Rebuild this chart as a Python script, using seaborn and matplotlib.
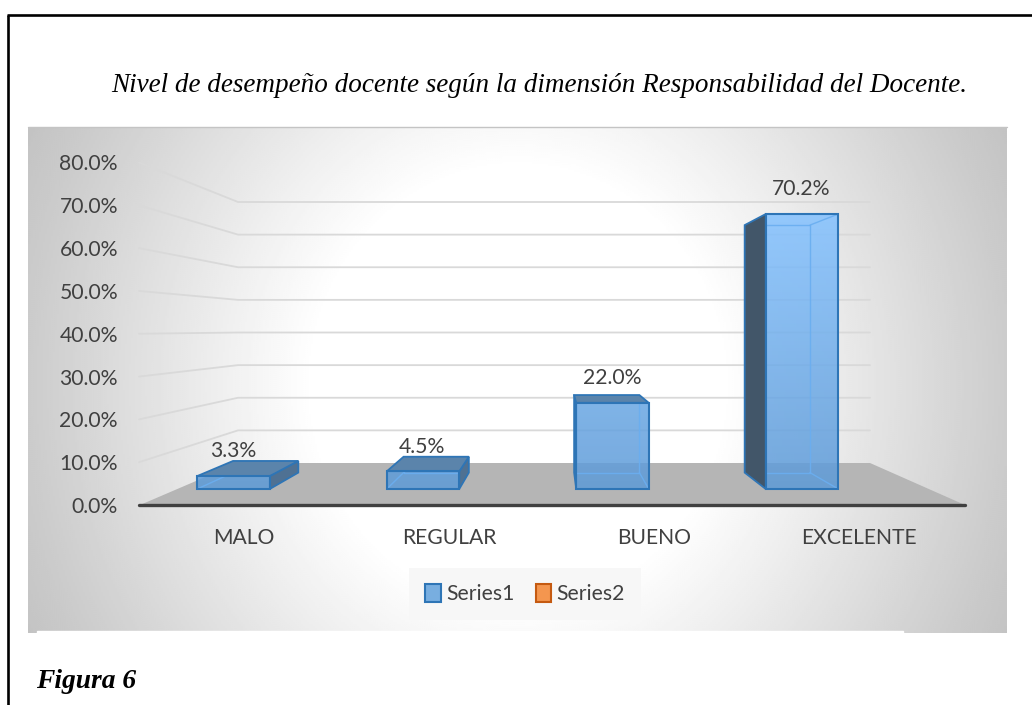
#bar chart (fake 3D, excel style) of nivel de desempeno docente
import numpy as np
import pandas as pd
import matplotlib.pyplot as plt
import seaborn as sns
from matplotlib.patches import Patch, Polygon, Rectangle
from matplotlib.colors import to_rgb

categorias = ['MALO', 'REGULAR', 'BUENO', 'EXCELENTE']
valores = [3.3, 4.5, 22.0, 70.2]
etiquetas = ['3.3%', '4.5%', '22.0%', '70.2%']
ticks_y = [0, 10, 20, 30, 40, 50, 60, 70, 80]
ticks_y_txt = ['0.0%', '10.0%', '20.0%', '30.0%', '40.0%', '50.0%', '60.0%', '70.0%', '80.0%']
series = ['Series1', 'Series2']
titulo = 'Nivel de desempeño docente según la dimensión Responsabilidad del Docente.'
pie = 'Figura 6'

sns.set_theme(style='white')
plt.rcParams['font.family'] = ['Lato', 'DejaVu Sans']
W, H = 1032, 705
gris = '#404040'
azul = '#2e75b6'
fs = 15.2

fig = plt.figure(figsize=(W/100, H/100), dpi=100, facecolor='white')

#background axes in pixels, y going down
bg = fig.add_axes([0, 0, 1, 1])
bg.set_xlim(0, W)
bg.set_ylim(H, 0)
bg.axis('off')

#page frame
bg.plot([6.5, W], [15, 15], color='black', lw=1.9, solid_capstyle='butt')
bg.plot([7.5, 7.5], [15, 705], color='black', lw=1.9, solid_capstyle='butt')

#chart area with radial gradient
xx, yy = np.meshgrid(np.linspace(28, 1007, 490), np.linspace(127, 633, 253))
d = np.sqrt(((xx - 518)/490)**2 + ((yy - 385)/520)**2)
gr = np.interp(d, [0, 0.42, 0.6, 1.0, 1.2], [1, 1, 0.94, 0.80, 0.74])
bg.imshow(gr, extent=[28, 1007, 633, 127], cmap='gray', vmin=0, vmax=1, aspect='auto', zorder=0)
bg.set_xlim(0, W)
bg.set_ylim(H, 0)
bg.plot([28, 1007], [127, 127], color='#c4c4c4', lw=1, zorder=1)
bg.add_patch(Rectangle((37, 631), 866, 3, color='white', zorder=1))

#axes for the tick labels, front plane
pos = [138/W, 1 - 505/H, (966 - 138)/W, (505 - 162.5)/H]
ax_lbl = fig.add_axes(pos, facecolor='none')
ax_lbl.set_xlim((138 - 244)/205, (966 - 244)/205)
ax_lbl.set_ylim(0, 80)
ax_lbl.set_xticks(range(len(categorias)), categorias)
ax_lbl.set_yticks(ticks_y, ticks_y_txt)
ax_lbl.tick_params(axis='both', length=0, labelsize=fs, labelcolor=gris)
ax_lbl.tick_params(axis='x', pad=16.5)
ax_lbl.tick_params(axis='y', pad=14.4)
sns.despine(ax=ax_lbl, left=True, bottom=True)

#walls: gridlines go from the front plane to the back wall
for v in ticks_y[1:]:
	yf = H - ax_lbl.transData.transform((0, v))[1]
	yb = 463 - (505 - yf)*261/342.5
	bg.plot([139, 238, 870], [yf, yb, yb], color='#d9d9d9', lw=1.3, zorder=2)

#floor and base line
bg.add_patch(Polygon([(140, 505), (238, 463), (870, 463), (965, 505)], color='#b5b5b5', lw=0, zorder=3))
bg.plot([139, 965], [504.5, 504.5], color=gris, lw=2.4, solid_capstyle='round', zorder=4)

#bars
ax = fig.add_axes(pos, facecolor='none')
df = pd.DataFrame({'nivel': categorias, 'valor': valores})
sns.barplot(data=df, x='nivel', y='valor', ax=ax, width=72.5/189.5, color=azul, edgecolor=azul, linewidth=1.5, zorder=6)
ax.axis('off')
lim_x = ((138 - 233.5)/189.5, (966 - 233.5)/189.5)
lim_y = (-16/3.917, (489 - 162.5)/3.917)

def a_pixel(x, y):
	p = ax.transData.transform((x, y))
	return p[0], H - p[1]

def fondo(p):#rear corner, 10% of the way to the vanishing point
	return p[0] + (555 - p[0])*0.1, p[1] + (325 - p[1])*0.1

ax.set_xlim(*lim_x)
ax.set_ylim(*lim_y)
c1 = np.array(to_rgb('#5d9ad7'))
c2 = np.array(to_rgb('#83c1ff'))
t = np.linspace(1, 0, 128)[:, None, None]
grad = np.dstack([c1 + (c2 - c1)*t[:, :, 0:1]*1.0, np.full((128, 1, 1), 0.85)])

for i, p in enumerate(ax.patches):
	x0, w, h = p.get_x(), p.get_width(), p.get_height()
	fi = a_pixel(x0, h)
	fd = a_pixel(x0 + w, h)
	bi = a_pixel(x0, 0)
	bd = a_pixel(x0 + w, 0)
	rfi, rfd, rbi, rbd = fondo(fi), fondo(fd), fondo(bi), fondo(bd)
	kw = dict(transform=bg.transData, closed=True, edgecolor=azul, lw=1.3, zorder=3)
	if rfi[0] < fi[0]:
		ax.add_patch(Polygon([fi, rfi, rbi, bi], facecolor='#425669', **kw))
	if rfd[0] > fd[0]:
		ax.add_patch(Polygon([fd, rfd, rbd, bd], facecolor='#4f7193', **kw))
	if rfi[1] > 325 and rfi[1] < fi[1]:
		ax.add_patch(Polygon([fi, rfi, rfd, fd], facecolor='#5b84ab', **kw))
	#gradient inside the front face
	im = ax.imshow(grad, extent=[x0, x0 + w, 0, max(valores)], aspect='auto', zorder=4)
	im.set_clip_path(p)
	#rear edges seen through the front face
	for a, b in [(rfi, rfd), (rfd, rbd), (rbd, rbi), (rbi, rfi), (fi, rfi), (fd, rfd), (bi, rbi), (bd, rbd)]:
		l, = ax.plot([a[0], b[0]], [a[1], b[1]], color='#6aaef0', lw=1, alpha=0.9, transform=bg.transData, zorder=5)
		l.set_clip_path(p)
	p.set_facecolor('none')
	ax.annotate(etiquetas[i], (x0 + w/2, h), xytext=(-0.5, 17.8), textcoords='offset points', ha='center', va='center',
		fontsize=fs, color=gris, zorder=7)
ax.set_xlim(*lim_x)
ax.set_ylim(*lim_y)
ax.axis('off')

#legend, Series2 has no bars in the chart
handles = [Patch(facecolor='#78aee0', edgecolor=azul, lw=1.5, label=series[0]),
	Patch(facecolor='#f4964f', edgecolor='#c55a11', lw=1.5, label=series[1])]
leg = fig.legend(handles=handles, loc='center', bbox_to_anchor=(525/W, 1 - 594/H), ncol=2, fontsize=fs, frameon=True,
	facecolor='#f7f7f7', edgecolor='none', framealpha=0.9, fancybox=False, handlelength=0.75, handleheight=0.95,
	handletextpad=0.25, columnspacing=1.0, labelcolor=gris, borderpad=0.75)

#text of the document
bg.text(539, 85, titulo, family='Liberation Serif', style='italic', fontsize=19.5, color='black', ha='center', va='center')
bg.text(36, 681, pie, family='Liberation Serif', style='italic', weight='bold', fontsize=19.8, color='black', ha='left', va='center')

fig.savefig('out.png', dpi=100)
